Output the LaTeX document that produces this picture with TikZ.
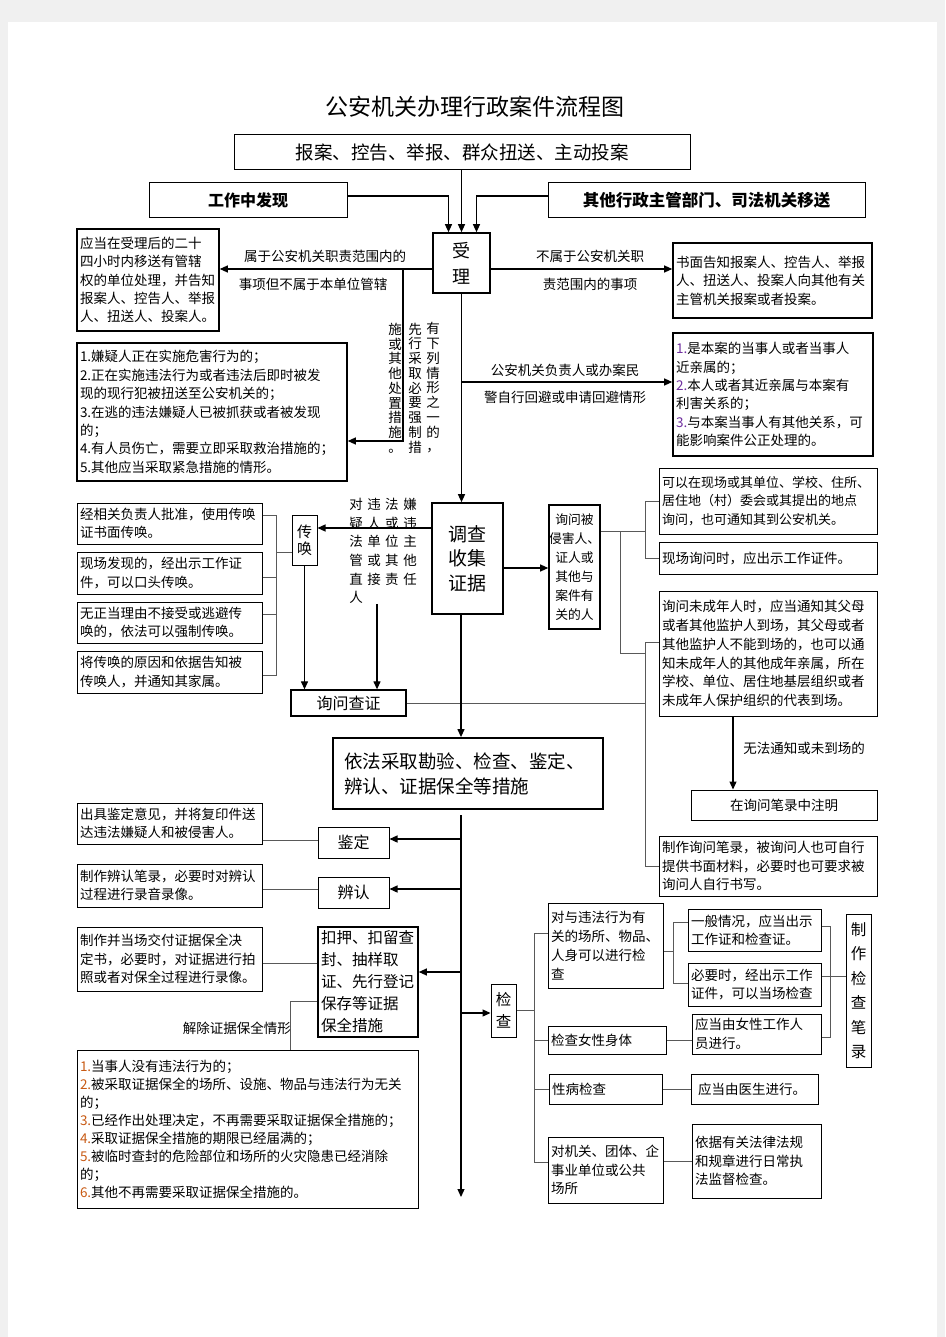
\documentclass[tikz,border=0pt]{standalone}
\usepackage{fontspec}
\setmainfont{Noto Sans CJK SC}
\usetikzlibrary{arrows.meta, calc}

\definecolor{numpurple}{RGB}{112,48,160}
\definecolor{numorange}{RGB}{200,90,20}

\begin{document}
\begin{tikzpicture}[x=1pt, y=-1pt,
	box/.style={draw, line width=1pt, inner xsep=3pt, inner ysep=0pt, align=left,
		font=\fontsize{13.5}{18.4}\selectfont},
	mainbox/.style={box, line width=1.6pt, align=center},
	flowline/.style={line width=1.2pt, -{Triangle[length=8pt, width=7pt]}},
	tieline/.style={line width=1pt, black!65},
	tag/.style={inner sep=0pt, font=\fontsize{13.5}{16}\selectfont},
	vcol/.style={inner sep=0pt, align=center, font=\fontsize{13.5}{14.75}\selectfont}
	]
	
	% parameters
	\def\gp{\hspace{4.5pt}}              % gap in the spaced text
	\def\nA#1{\textcolor{numpurple}{#1}} % coloured numbers (recusal)
	\def\nB#1{\textcolor{numorange}{#1}} % coloured numbers (release)
	% box from corner (x1,y1) to corner (x2,y2)
	\def\flowbox#1#2#3#4#5#6#7{%
		\pgfmathsetmacro\boxtw{#5-#3-6}%
		\pgfmathsetmacro\boxh{#6-#4}%
		\node[box, #1, text width=\boxtw pt, minimum height=\boxh pt] (#2) at ({(#3+#5)/2},{(#4+#6)/2}) {#7};}
	
	% page
	\fill[black!6] (0,0) rectangle (945,1337);
	\fill[white] (8,22) rectangle (937,1337);
	\useasboundingbox (0,0) rectangle (945,1337);
	
	% title
	\node[font=\fontsize{23}{26}\selectfont] (title) at (475,107) {公安机关办理行政案件流程图};
	
	% sources
	\flowbox{align=center, font=\fontsize{18.5}{22}\selectfont}{src}{234}{135}{690}{170}{报案、控告、举报、群众扭送、主动投案};
	\flowbox{align=center, font=\fontsize{16}{20}\selectfont\bfseries}{found}{149}{183}{347}{218}{工作中发现};
	\flowbox{align=center, font=\fontsize{16.5}{20}\selectfont\bfseries}{transfer}{548}{183}{865}{218}{其他行政主管部门、司法机关移送};
	
	% acceptance
	\flowbox{mainbox, font=\fontsize{18}{26}\selectfont}{accept}{433}{233}{490}{293}{受\\理};
	\draw[flowline] (src.south -| accept.north) -- (accept.north);
	\draw[flowline] (found.east |- 0,196) -| ([xshift=-13pt]accept.north);
	\draw[flowline] (transfer.west |- 0,196) -| ([xshift=15pt]accept.north);
	
	% left: hand over / emergency
	\flowbox{line width=1.6pt}{handover}{77}{229}{219}{331}{应当在受理后的二十\\四小时内移送有管辖\\权的单位处理，并告知\\报案人、控告人、举报\\人、扭送人、投案人。};
	\flowbox{line width=1.6pt}{emerg}{77}{343}{347}{481}{1.嫌疑人正在实施危害行为的；\\2.正在实施违法行为或者违法后即时被发\\现的现行犯被扭送至公安机关的；\\3.在逃的违法嫌疑人已被抓获或者被发现\\的；\\4.有人员伤亡，需要立即采取救治措施的；\\5.其他应当采取紧急措施的情形。};
	\coordinate (fork) at (403,269);
	\draw[flowline] (accept.west |- fork) -- (handover.east |- fork);
	\draw[flowline] (fork) |- (emerg.east |- 0,441);
	\node[tag] (inscope1) at (325,256) {属于公安机关职责范围内的};
	\node[tag] (inscope2) at (313,284) {事项但不属于本单位管辖};
	\node[vcol] (force1) at (433,388) {有\\下\\列\\情\\形\\之\\一\\的\\，};
	\node[vcol] (force2) at (415,388) {先\\行\\采\\取\\必\\要\\强\\制\\措};
	\node[vcol] (force3) at (395,388) {施\\或\\其\\他\\处\\置\\措\\施\\。};
	
	% right: out of scope / recusal
	\flowbox{line width=1.6pt}{notify}{673}{243}{872}{318}{书面告知报案人、控告人、举报\\人、扭送人、投案人向其他有关\\主管机关报案或者投案。};
	\draw[flowline] (accept.east |- fork) -- (notify.west |- fork);
	\node[tag] (outscope1) at (590,256) {不属于公安机关职};
	\node[tag] (outscope2) at (590,284) {责范围内的事项};
	\flowbox{line width=1.6pt}{recuse}{673}{333}{873}{456}{\nA{1.}是本案的当事人或者当事人\\近亲属的；\\\nA{2.}本人或者其近亲属与本案有\\利害关系的；\\\nA{3.}与本案当事人有其他关系，可\\能影响案件公正处理的。};
	\coordinate (recfork) at (accept.south |- 0,382);
	\draw[flowline] (recfork) -- (recuse.west |- recfork);
	\node[tag] (recusal1) at (565,370) {公安机关负责人或办案民};
	\node[tag] (recusal2) at (565,397) {警自行回避或申请回避情形};
	
	% investigation
	\flowbox{mainbox, font=\fontsize{19}{24.5}\selectfont}{invest}{432}{503}{503}{614}{调查\\收集\\证据};
	\draw[flowline] (accept.south) -- (accept.south |- invest.north);
	
	% summons
	\flowbox{align=center, inner xsep=1pt, font=\fontsize{15}{17}\selectfont}{summons}{290}{515}{319}{565}{传\\唤};
	\draw[flowline] (invest.west |- 0,528) -- (summons.east |- 0,528);
	\node[tag, align=left, font=\fontsize{13.5}{18.6}\selectfont] (target) at (383,551) {对\gp 违\gp 法\gp 嫌\\疑\gp 人\gp 或\gp 违\\法\gp 单\gp 位\gp 主\\管\gp 或\gp 其\gp 他\\直\gp 接\gp 责\gp 任\\人};
	\flowbox{}{sm1}{77}{503}{262}{544}{经相关负责人批准，使用传唤\\证书面传唤。};
	\flowbox{}{sm2}{77}{552}{262}{594}{现场发现的，经出示工作证\\件，可以口头传唤。};
	\flowbox{}{sm3}{77}{602}{262}{643}{无正当理由不接受或逃避传\\唤的，依法可以强制传唤。};
	\flowbox{}{sm4}{77}{651}{262}{693}{将传唤的原因和依据告知被\\传唤人，并通知其家属。};
	\coordinate (smbus) at (276,0);
	\draw[tieline] (sm1.east |- 0,515) -- (smbus |- 0,515) |- (sm4.east |- 0,675);
	\draw[tieline] (sm2.east |- 0,577) -- (smbus |- 0,577);
	\draw[tieline] (sm3.east |- 0,614) -- (smbus |- 0,614);
	\draw[tieline] (summons.west |- 0,552) -- (smbus |- 0,552);
	
	% questioning
	\flowbox{align=center, line width=1.3pt, font=\fontsize{16}{18}\selectfont}{verify}{291}{690}{406}{716}{询问查证};
	\draw[flowline] (summons.south) -- (summons.south |- verify.north);
	\draw[flowline] (target.south -| 377,0) -- (verify.north -| 377,0);
	
	% witnesses
	\flowbox{mainbox, inner xsep=0pt, font=\fontsize{12.8}{19}\selectfont}{victim}{546}{505}{603}{629}{询问被\\侵害人、\\证人或\\其他与\\案件有\\关的人};
	\draw[flowline] (invest.east |- 0,568) -- (victim.west |- 0,568);
	\flowbox{font=\fontsize{13}{18.4}\selectfont}{site}{659}{468}{877}{534}{可以在现场或其单位、学校、住所、\\居住地（村）委会或其提出的地点\\询问，也可通知其到公安机关。};
	\flowbox{}{showid}{659}{542}{877}{574}{现场询问时，应出示工作证件。};
	\flowbox{font=\fontsize{13.5}{18.9}\selectfont}{minor}{659}{591}{877}{716}{询问未成年人时，应当通知其父母\\或者其他监护人到场，其父母或者\\其他监护人不能到场的，也可以通\\知未成年人的其他成年亲属，所在\\学校、单位、居住地基层组织或者\\未成年人保护组织的代表到场。};
	\flowbox{align=center}{note}{691}{790}{877}{820}{在询问笔录中注明};
	\flowbox{}{record}{659}{836}{877}{896}{制作询问笔录，被询问人也可自行\\提供书面材料，必要时也可要求被\\询问人自行书写。};
	\coordinate (qbus) at (645,0);
	\coordinate (vbus) at (620,0);
	\draw[tieline] (victim.east |- 0,531) -- (qbus |- 0,531);
	\draw[tieline] (site.west) -- (qbus |- site.west) |- (showid.west);
	\draw[tieline] (vbus |- 0,531) |- (qbus |- 0,653);
	\draw[tieline] (minor.west |- 0,642) -- (qbus |- 0,642) |- (record.west);
	\draw[tieline] (verify.east) -- (qbus |- verify.east);
	\draw[flowline] (minor.south -| 733,0) -- (note.north -| 733,0);
	\node[tag] (absent) at (804,748) {无法通知或未到场的};
	
	% measures
	\flowbox{mainbox, align=left, line width=1.8pt, font=\fontsize{18.5}{25}\selectfont}{measures}{333}{738}{603}{809}{\hspace*{8pt}依法采取勘验、检查、鉴定、\\\hspace*{8pt}辨认、证据保全等措施};
	\coordinate (trunktop) at (461,815);
	\coordinate (trunkend) at (461,1197);
	\draw[flowline] (invest.south -| trunktop) -- (measures.north -| trunktop);
	\draw[flowline] (trunktop) -- (trunkend);
	
	% identification, recognition
	\flowbox{align=center, font=\fontsize{16}{18}\selectfont}{ident}{318}{827}{389}{858}{鉴定};
	\flowbox{align=center, font=\fontsize{16}{18}\selectfont}{recog}{318}{877}{389}{908}{辨认};
	\flowbox{}{identnote}{77}{803}{262}{844}{出具鉴定意见，并将复印件送\\达违法嫌疑人和被侵害人。};
	\flowbox{}{recognote}{77}{864}{262}{907}{制作辨认笔录，必要时对辨认\\过程进行录音录像。};
	\draw[flowline] (trunktop |- 0,839) -- (ident.east |- 0,839);
	\draw[flowline] (trunktop |- 0,889) -- (recog.east |- 0,889);
	\draw[tieline] (identnote.east |- 0,840) -- (ident.west |- 0,840);
	\draw[tieline] (recognote.east |- 0,889) -- (recog.west |- 0,889);
	
	% evidence preservation
	\flowbox{line width=1.6pt, font=\fontsize{15.5}{22}\selectfont}{seize}{318}{927}{418}{1037}{扣押、扣留查\\封、抽样取\\证、先行登记\\保存等证据\\保全措施};
	\flowbox{}{seizenote}{77}{927}{262}{991}{制作并当场交付证据保全决\\定书，必要时，对证据进行拍\\照或者对保全过程进行录像。};
	\draw[flowline] (trunktop |- 0,972) -- (seize.east |- 0,972);
	\draw[tieline] (seizenote.east |- 0,963) -- (seize.west |- 0,963);
	\flowbox{font=\fontsize{13.5}{18}\selectfont}{releasebox}{77}{1050}{418}{1208}{\nB{1.}当事人没有违法行为的；\\\nB{2.}被采取证据保全的场所、设施、物品与违法行为无关\\的；\\\nB{3.}已经作出处理决定，不再需要采取证据保全措施的；\\\nB{4.}采取证据保全措施的期限已经届满的；\\\nB{5.}被临时查封的危险部位和场所的火灾隐患已经消除\\的；\\\nB{6.}其他不再需要采取证据保全措施的。};
	\draw[tieline] (seize.west |- 0,1001) -| (releasebox.north -| 290,0);
	\node[tag, anchor=east] (release) at (291,1028) {解除证据保全情形};
	
	% inspection
	\flowbox{align=center, inner xsep=1pt, font=\fontsize{15.5}{22}\selectfont}{check}{489}{984}{518}{1037}{检\\查};
	\draw[flowline] (trunktop |- 0,1013) -- (check.west |- 0,1013);
	\flowbox{font=\fontsize{13.5}{18.8}\selectfont}{ck1}{548}{903}{663}{988}{对与违法行为有\\关的场所、物品、\\人身可以进行检\\查};
	\flowbox{}{ck2}{548}{1026}{666}{1054}{检查女性身体};
	\flowbox{}{ck3}{549}{1074}{662}{1104}{性病检查};
	\flowbox{}{ck4}{548}{1137}{663}{1203}{对机关、团体、企\\事业单位或公共\\场所};
	\flowbox{}{g1}{688}{909}{821}{951}{一般情况，应当出示\\工作证和检查证。};
	\flowbox{}{g2}{688}{963}{821}{1006}{必要时，经出示工作\\证件，可以当场检查};
	\flowbox{}{g3}{692}{1014}{821}{1054}{应当由女性工作人\\员进行。};
	\flowbox{}{g4}{691}{1074}{818}{1104}{\hspace*{4pt}应当由医生进行。};
	\flowbox{}{g5}{692}{1124}{821}{1198}{依据有关法律法规\\和规章进行日常执\\法监督检查。};
	\flowbox{align=center, inner xsep=1pt, font=\fontsize{15.5}{24.5}\selectfont}{checkrec}{844}{914}{873}{1067}{制\\作\\检\\查\\笔\\录};
	\coordinate (ckbus) at (534,0);
	\coordinate (gbus) at (673,0);
	\coordinate (rbus) at (830,0);
	\draw[tieline] (check.east) -- (ckbus |- check.east);
	\draw[tieline] (ck1.west |- 0,933) -- (ckbus |- 0,933) |- (ck4.west |- 0,1162);
	\draw[tieline] (ck2.west) -- (ckbus |- ck2.west);
	\draw[tieline] (ck3.west) -- (ckbus |- ck3.west);
	\draw[tieline] (ck1.east |- 0,951) -- (gbus |- 0,951);
	\draw[tieline] (g1.west |- 0,922) -- (gbus |- 0,922) |- (g2.west |- 0,983);
	\draw[tieline] (ck2.east) -- (g3.west |- ck2.east);
	\draw[tieline] (ck3.east) -- (g4.west |- ck3.east);
	\draw[tieline] (ck4.east |- g5.west) -- (g5.west);
	\draw[tieline] (g1.east |- 0,926) -- (rbus |- 0,926) |- (g3.east |- 0,1037);
	\draw[tieline] (g2.east |- 0,976) -- (checkrec.west |- 0,976);
	
\end{tikzpicture}
\end{document}
